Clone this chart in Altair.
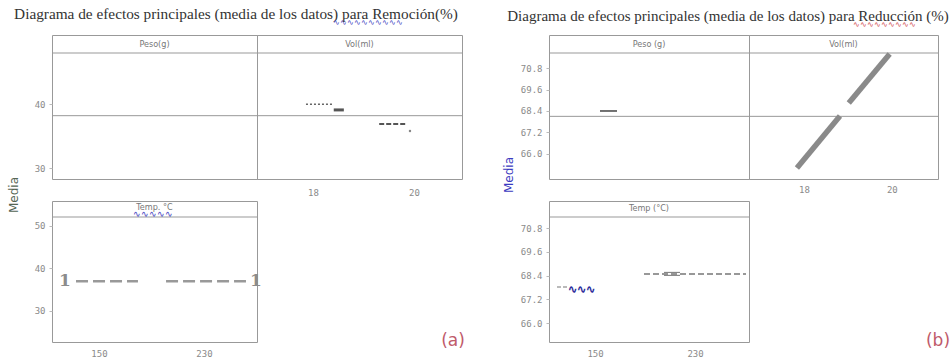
import altair as alt
import pandas as pd

# ---------------- (a) Remoción (%) ----------------
titulo_a = "Diagrama de efectos principales (media de los datos) para Remoción(%)"
cabeceras_a = ["Peso(g)", "Vol(ml)", "Temp. °C"]
media_a = 38.2
y_ticks_a = [30, 40]
y_ticks_temp_a = [30, 40, 50]

vol_a_punteado_x = [17.86, 18.41]
vol_a_punteado_y = [40.0, 40.0]
vol_a_grueso_x = [18.41, 18.61]
vol_a_grueso_y = [39.1, 39.1]
vol_a_guiones_x = [19.31, 19.84]
vol_a_guiones_y = [36.9, 36.9]
vol_a_punto_x = [19.92]
vol_a_punto_y = [35.8]

temp_a_tramo1_x = [132.5, 179.7]
temp_a_tramo2_x = [201.1, 262.0]
temp_a_y = [37.0, 37.0]
temp_a_extremos_x = [124.1, 269.6]

# ---------------- (b) Reducción (%) ----------------
titulo_b = "Diagrama de efectos principales (media de los datos) para Reducción (%)"
cabeceras_b = ["Peso (g)", "Vol(ml)", "Temp (°C)"]
media_b = 68.1
y_ticks_b = [66.0, 67.2, 68.4, 69.6, 70.8]

peso_b_x = [0.255, 0.34]
peso_b_y = [68.4, 68.4]
vol_b_tramo1_x = [17.84, 18.82]
vol_b_tramo1_y = [65.22, 68.12]
vol_b_tramo2_x = [19.02, 19.95]
vol_b_tramo2_y = [68.85, 71.58]
temp_b_guiones_x = [189.2, 270.8]
temp_b_guiones_y = [68.48, 68.48]
temp_b_doble_x = [205.2, 218.0]
temp_b_doble_y1 = [68.56, 68.56]
temp_b_doble_y2 = [68.41, 68.41]
temp_b_izq_x = [119.6, 127.6]
temp_b_izq_y = [67.82, 67.82]

# shared tick labels
x_ticks_vol = [18, 20]
x_ticks_temp = [150, 230]

GRIS = "#999999"
ETIQ = "#8a8a8a"
uno = pd.DataFrame({"k": [0]})


def tabla(xs, ys, grupo=None):
    d = pd.DataFrame({"x": xs, "y": ys})
    d["g"] = grupo if grupo is not None else 0
    return d


def panel(cabecera, w, h, hdr, xdom, ydom, capas, xticks=None, yticks=None,
          yfmt="d", media=None, extras=(), xpad=8, ycab=None):
    sx = alt.Scale(domain=xdom, nice=False, zero=False)
    sy = alt.Scale(domain=ydom, nice=False, zero=False, range=[h, hdr])
    if xticks:
        X = alt.X("x:Q", scale=sx, title=None,
                  axis=alt.Axis(values=xticks, labelPadding=xpad, ticks=False,
                                domain=False, grid=False))
    else:
        X = alt.X("x:Q", scale=sx, title=None, axis=None)
    if yticks:
        Y = alt.Y("y:Q", scale=sy, title=None,
                  axis=alt.Axis(values=yticks, format=yfmt, labelPadding=4,
                                tickSize=3, tickColor="#bbbbbb", domain=False,
                                grid=False))
    else:
        Y = alt.Y("y:Q", scale=sy, title=None, axis=None)

    capas_graf = []
    for d, marca in capas:
        tipo = marca["type"]
        kw = {k: v for k, v in marca.items() if k != "type"}
        enc = {"x": X, "y": Y}
        if tipo == "line":
            enc["detail"] = "g:N"
        capas_graf.append(getattr(alt.Chart(d), "mark_" + tipo)(**kw).encode(**enc))
    if media is not None:
        capas_graf.insert(0, alt.Chart(pd.DataFrame({"y": [media]}))
                          .mark_rule(color=GRIS, strokeWidth=1).encode(y=Y))

    linea_cab = alt.Chart(uno).mark_rule(color=GRIS, strokeWidth=1).encode(
        x=alt.value(0), x2=alt.value(w), y=alt.value(hdr))
    texto_cab = alt.Chart(uno).mark_text(
        font="DejaVu Sans Condensed", fontSize=9, color="#777777").encode(
        x=alt.value(w / 2), y=alt.value(ycab if ycab is not None else hdr / 2),
        text=alt.value(cabecera))
    return alt.layer(linea_cab, texto_cab, *capas_graf, *extras).properties(
        width=w, height=h)


def texto(t, x, y, **kw):
    return alt.Chart(uno).mark_text(**kw).encode(
        x=alt.value(x), y=alt.value(y), text=alt.value(t))


def vacio(w, h, extras=()):
    base = alt.Chart(uno).mark_point(opacity=0).encode(x=alt.value(0), y=alt.value(0))
    return alt.layer(base, *extras).properties(
        width=w, height=h, view=alt.ViewBackground(stroke="transparent"))


def linea(**kw):
    return {"type": "line", **kw}


# ---------- panels (a) ----------
ancla = alt.Chart(uno).mark_rule(opacity=0).encode(
    x=alt.value(-51), x2=alt.value(-45), y=alt.value(-34))

peso_a = panel(cabeceras_a[0], 205, 144, 18, [0, 1], [28.3, 48.0], [],
               yticks=y_ticks_a, media=media_a,
               extras=(ancla,
                       texto(titulo_a, 184, -21, font="Liberation Serif",
                             fontSize=15.3, color="#333333"),
                       texto("∿∿∿∿∿∿∿∿∿∿", 316, -12, fontSize=8, color="#3b3bc0"),
                       texto("Media", -38, 160, angle=270, fontSize=12,
                             color="#556655", font="DejaVu Sans")))

vol_a = panel(cabeceras_a[1], 205, 144, 18, [16.89, 20.95], [28.3, 48.0], [
    (tabla(vol_a_punteado_x, vol_a_punteado_y), linea(color="#666666", strokeWidth=1.5, strokeDash=[2, 2])),
    (tabla(vol_a_grueso_x, vol_a_grueso_y), linea(color="#555555", strokeWidth=3)),
    (tabla(vol_a_guiones_x, vol_a_guiones_y), linea(color="#555555", strokeWidth=2, strokeDash=[5, 2])),
    (tabla(vol_a_punto_x, vol_a_punto_y), {"type": "point", "filled": True, "size": 6, "color": "#555555"}),
], xticks=x_ticks_vol, media=media_a, xpad=9)

temp_a = panel(cabeceras_a[2], 205, 141, 16, [114.2, 270.4], [22.7, 52.1], [
    (tabla(temp_a_tramo1_x, temp_a_y), linea(color=GRIS, strokeWidth=2.5, strokeDash=[12, 5])),
    (tabla(temp_a_tramo2_x, temp_a_y), linea(color=GRIS, strokeWidth=2.5, strokeDash=[12, 5])),
    (tabla(temp_a_extremos_x, temp_a_y), {"type": "text", "text": "1", "font": "DejaVu Serif",
                                          "fontWeight": "bold", "fontSize": 17, "color": "#8c8c8c"}),
], xticks=x_ticks_temp, yticks=y_ticks_temp_a, xpad=7, ycab=6,
    extras=(texto("∿∿∿∿∿", 101, 13, fontSize=9, color="#3b3bc0"),))

# ---------- panels (b) ----------
peso_b = panel(cabeceras_b[0], 200, 144, 18, [0, 1], [64.6, 71.64], [
    (tabla(peso_b_x, peso_b_y), linea(color="#444444", strokeWidth=1.5)),
], yticks=y_ticks_b, yfmt=".1f", media=media_b,
    extras=(texto(titulo_b, 179, -19, font="Liberation Serif", fontSize=15, color="#333333"),
            texto("∿∿∿∿∿∿∿∿∿", 335, -10, fontSize=8, color="#d04848"),
            texto("Media", -40, 140, angle=270, fontSize=12, color="#3b3bc0",
                  font="DejaVu Sans")))

vol_b = panel(cabeceras_b[1], 189, 144, 18, [16.75, 21.05], [64.6, 71.64], [
    (tabla(vol_b_tramo1_x, vol_b_tramo1_y), linea(color="#8a8a8a", strokeWidth=5.5)),
    (tabla(vol_b_tramo2_x, vol_b_tramo2_y), linea(color="#8a8a8a", strokeWidth=5.5)),
], xticks=x_ticks_vol, media=media_b, xpad=6)

temp_b = panel(cabeceras_b[2], 200, 141, 16, [113.2, 273.2], [65.04, 71.36], [
    (tabla(temp_b_guiones_x, temp_b_guiones_y), linea(color="#777777", strokeWidth=1.5, strokeDash=[6, 3])),
    (pd.concat([tabla(temp_b_doble_x, temp_b_doble_y1, 1), tabla(temp_b_doble_x, temp_b_doble_y2, 2)]),
     linea(color="#777777", strokeWidth=1)),
    (tabla(temp_b_izq_x, temp_b_izq_y), linea(color="#777777", strokeWidth=1.2, strokeDash=[4, 2])),
], xticks=x_ticks_temp, yticks=y_ticks_b, yfmt=".1f", xpad=7, ycab=7,
    extras=(texto("∿∿∿", 32, 89, fontSize=11, color="#2d2d9a", fontWeight="bold"),))

etiqueta_a = vacio(205, 141, (texto("(a)", 196, 140, fontSize=17, color="#c05a6a",
                                   font="DejaVu Sans"),))
etiqueta_b = vacio(189, 141, (texto("(b)", 189, 140, fontSize=17, color="#c05a6a",
                                   font="DejaVu Sans"),))

chart = alt.concat(
    peso_a, vol_a, vacio(87, 144), peso_b, vol_b,
    temp_a, etiqueta_a, vacio(87, 141), temp_b, etiqueta_b,
    columns=5, spacing={"row": 22, "column": 0}, bounds="flush", padding=0,
    background="white",
).configure_view(stroke=GRIS, strokeWidth=1).configure_axis(
    labelFont="DejaVu Sans Mono", labelFontSize=9, labelColor=ETIQ,
)

chart.save("out.html", embed_options={"renderer": "svg", "actions": False})
